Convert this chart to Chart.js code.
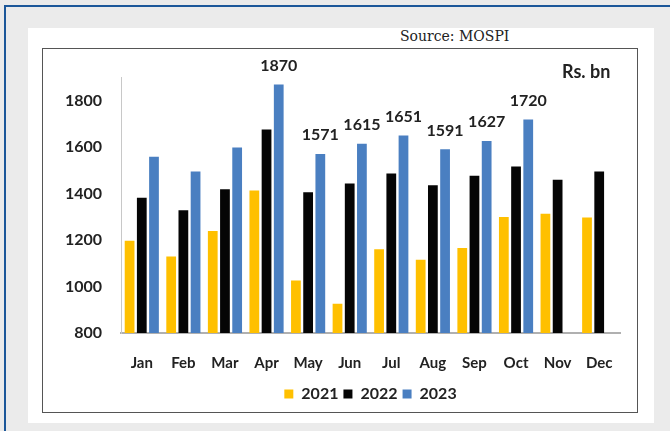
<!DOCTYPE html>
<html>
<head>
<meta charset="utf-8">
<script src="https://cdn.jsdelivr.net/npm/chart.js@4"></script>
<style>
    html, body { margin: 0; padding: 0; }
    body { width: 670px; height: 431px; background: #ebebeb; position: relative; overflow: hidden; font-family: Lato, sans-serif; }
    #frameTop { position: absolute; left: 4px; top: 5px; width: 666px; height: 2px; background: #1c5799; }
    #frameLeft { position: absolute; left: 4px; top: 5px; width: 2px; height: 426px; background: #1c5799; }
    #panel { position: absolute; left: 28px; top: 28px; width: 626px; height: 395px; background: #fff; }
    #source { position: absolute; left: 400px; top: 28px; font-family: "DejaVu Serif", serif; font-size: 14px; color: #222; }
    #box { position: absolute; left: 42px; top: 48px; width: 594px; height: 363px; border: 1.5px solid #555; background: #fff; }
    #unit { position: absolute; left: 562px; top: 60px; font-family: Lato, sans-serif; font-weight: bold; font-size: 18px; color: #222; }
    #wrap { position: absolute; left: 0; top: 0; width: 594px; height: 363px; }
</style>
</head>
<body>
<div id="frameTop"></div>
<div id="frameLeft"></div>
<div id="panel"></div>
<div id="source">Source: MOSPI</div>
<div id="box"><div id="wrap"><canvas id="chart"></canvas></div></div>
<div id="unit">Rs. bn</div>
<script>
const months = ["Jan", "Feb", "Mar", "Apr", "May", "Jun", "Jul", "Aug", "Sep", "Oct", "Nov", "Dec"];
const y2021 = [1197, 1130, 1239, 1414, 1026, 926, 1161, 1116, 1166, 1300, 1314, 1297];
const y2022 = [1383, 1329, 1419, 1676, 1406, 1444, 1487, 1436, 1477, 1517, 1460, 1496];
const y2023 = [1559, 1496, 1599, 1870, 1571, 1615, 1651, 1591, 1627, 1720, null, null];
const labelFrom = 3; // 2023 values are printed from Apr on
const yTicks = [800, 1000, 1200, 1400, 1600, 1800];

// print the 2023 values above their bars
const valueLabels = {
    id: "valueLabels",
    afterDatasetsDraw(chart) {
        const ctx = chart.ctx;
        const meta = chart.getDatasetMeta(2);
        ctx.save();
        ctx.font = "bold 16px Lato";
        ctx.fillStyle = "#222";
        ctx.textAlign = "center";
        ctx.textBaseline = "middle";
        meta.data.forEach((bar, i) => {
            if (i < labelFrom || y2023[i] == null) return;
            ctx.fillText(String(y2023[i]), bar.x, bar.y - 19);
        });
        ctx.restore();
    },
};

// centre the legend under the plot area, not the whole canvas
const legendUnderPlot = {
    id: "legendUnderPlot",
    afterLayout(chart) {
        chart.legend.left = chart.chartArea.left;
        chart.legend.right = chart.chartArea.right;
    },
};

const chart = new Chart(document.getElementById("chart"), {
    type: "bar",
    data: {
        labels: months,
        datasets: [
            { label: "2021", data: y2021, backgroundColor: "#ffc000" },
            { label: "2022", data: y2022, backgroundColor: "#050505" },
            { label: "2023", data: y2023, backgroundColor: "#4a7fc1" },
        ],
    },
    options: {
        responsive: true,
        maintainAspectRatio: false,
        animation: false,
        layout: { padding: { top: 26, right: 17, left: 0, bottom: 0 } },
        datasets: { bar: { categoryPercentage: 0.88, barPercentage: 0.8 } },
        scales: {
            x: {
                grid: { display: false, drawTicks: false },
                border: { color: "#b0b0b0", width: 2 },
                ticks: { padding: 21, color: "#222", font: { family: "Lato", size: 15, weight: "bold" } },
                afterFit: scale => { scale.height = 48; },
            },
            y: {
                min: 800,
                max: 1900,
                grid: { display: false, drawTicks: false },
                border: { color: "#c8c8c8", width: 1 },
                ticks: {
                    padding: 19,
                    color: "#222",
                    font: { family: "Lato", size: 16, weight: "bold" },
                    callback: v => String(v),
                },
                afterBuildTicks: scale => { scale.ticks = yTicks.map(v => ({ value: v })); },
                afterFit: scale => { scale.width = 78; },
            },
        },
        plugins: {
            legend: {
                position: "bottom",
                labels: {
                    boxWidth: 9,
                    boxHeight: 9,
                    padding: 5,
                    color: "#222",
                    font: { family: "Lato", size: 16, weight: "bold" },
                },
            },
            tooltip: { enabled: false },
        },
    },
    plugins: [valueLabels, legendUnderPlot],
});
</script>
</body>
</html>
